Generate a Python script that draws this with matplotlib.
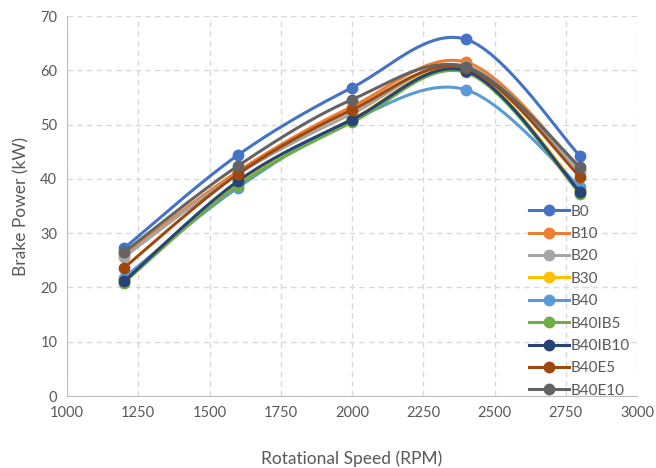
import numpy as np
import matplotlib
matplotlib.use("Agg")
from matplotlib import pyplot as plt
from matplotlib.lines import Line2D

plt.rcParams['font.family'] = ['Lato', 'DejaVu Sans']

speeds = [1200, 1600, 2000, 2400, 2800]
series_names = ['B0', 'B10', 'B20', 'B30', 'B40', 'B40IB5', 'B40IB10', 'B40E5', 'B40E10']
b0 = [27.2, 44.4, 56.8, 65.7, 44.2]
b10 = [26.0, 41.4, 53.3, 61.5, 41.8]
b20 = [25.6, 40.9, 52.0, 60.8, 41.3]
b30 = [21.6, 39.0, 51.0, 60.0, 38.0]
b40 = [21.8, 38.4, 50.8, 56.4, 38.5]
b40ib5 = [20.9, 38.8, 50.4, 59.6, 37.3]
b40ib10 = [21.1, 39.6, 50.9, 59.9, 37.6]
b40e5 = [23.6, 40.9, 52.7, 60.4, 40.4]
b40e10 = [26.5, 42.4, 54.6, 60.6, 42.2]
colors = ['#4472C4', '#ED7D31', '#A5A5A5', '#FFC000', '#5B9BD5',
          '#70AD47', '#264478', '#9E480E', '#636363']


def smooth_curve(x, y, n=40):
    """Excel-like smoothed line: Catmull-Rom segments drawn as cubic Bezier curves."""
    pts = np.column_stack([x, y]).astype(float)
    padded = np.vstack([pts[0], pts, pts[-1]])
    t = np.linspace(0, 1, n)[:, None]
    out = []
    for i in range(1, len(padded) - 2):
        p0, p1, p2, p3 = padded[i - 1], padded[i], padded[i + 1], padded[i + 2]
        c1 = p1 + (p2 - p0) / 6
        c2 = p2 - (p3 - p1) / 6
        seg = ((1 - t) ** 3) * p1 + 3 * ((1 - t) ** 2) * t * c1 + 3 * (1 - t) * t ** 2 * c2 + t ** 3 * p2
        out.append(seg if i == 1 else seg[1:])
    out = np.vstack(out)
    return out[:, 0], out[:, 1]


all_series = [b0, b10, b20, b30, b40, b40ib5, b40ib10, b40e5, b40e10]

fig = plt.figure(figsize=(6.56, 4.68), dpi=100)
ax = fig.add_axes([67 / 656, 72 / 468, 570 / 656, 380 / 468])

handles = []
for name, vals, col in zip(series_names, all_series, colors):
    sx, sy = smooth_curve(speeds, vals)
    ax.plot(sx, sy, color=col, lw=2.2, solid_capstyle='round', zorder=3)
    ax.plot(speeds, vals, 'o', color=col, ms=7.5, zorder=3)
    handles.append(Line2D([], [], color=col, lw=2.2, marker='o', ms=7.5))

ax.set_xlim(1000, 3000)
ax.set_ylim(0, 70)
ax.set_xticks(range(1000, 3001, 250))
ax.set_yticks(range(0, 71, 10))
ax.grid(True, color='#D9D9D9', linestyle=(0, (4, 3)), lw=1)
ax.set_axisbelow(True)
for side in ['top', 'right']:
    ax.spines[side].set_visible(False)
for side in ['left', 'bottom']:
    ax.spines[side].set_color('#BFBFBF')
ax.tick_params(length=0, labelsize=10.5, colors='#595959', pad=7)
ax.set_xlabel('Rotational Speed (RPM)', fontsize=12.5, color='#595959', labelpad=22)
ax.set_ylabel('Brake Power (kW)', fontsize=12.5, color='#595959', labelpad=8)

ax.legend(handles, series_names, loc='upper left', bbox_to_anchor=(0.8, 0.52),
          frameon=False, fontsize=11, handlelength=2.6, handletextpad=0.1,
          labelspacing=0.55, labelcolor='#595959', borderaxespad=0)

fig.savefig('out.png', dpi=100, facecolor='white')
